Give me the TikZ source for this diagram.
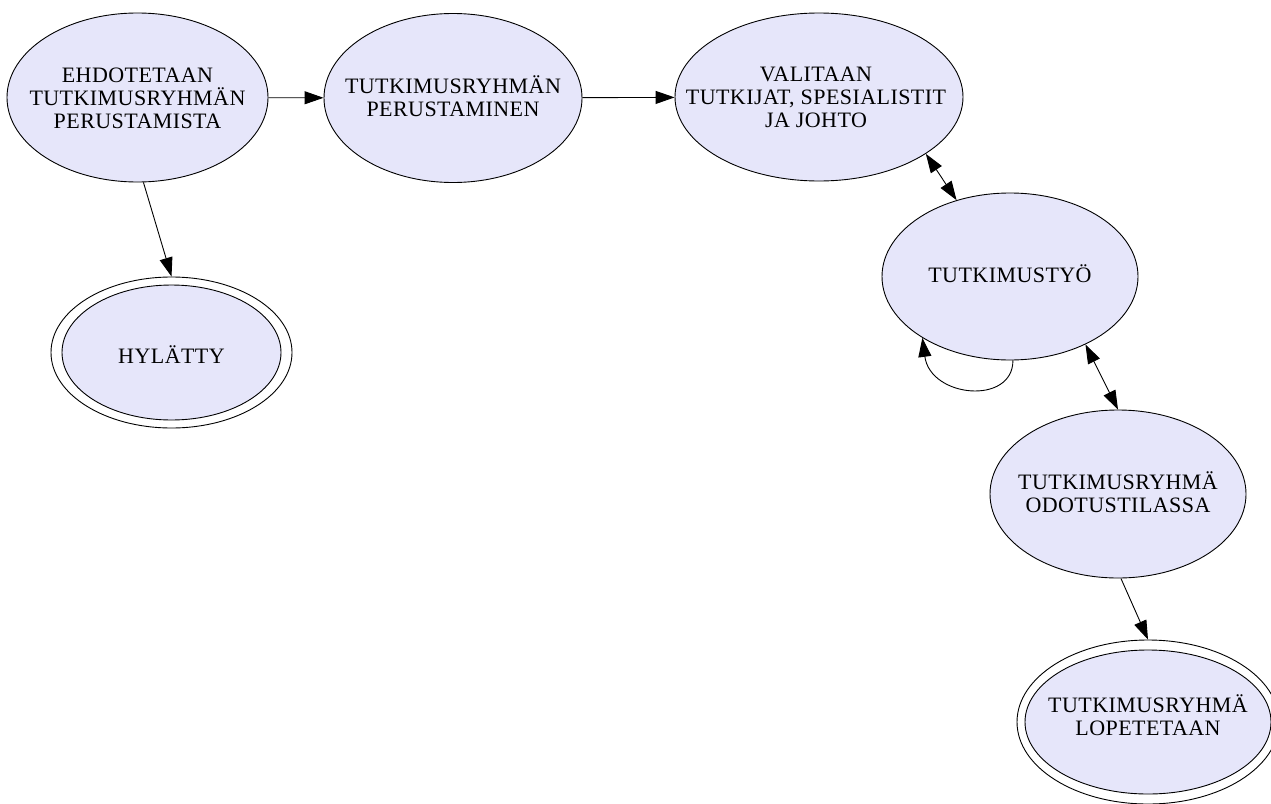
\documentclass[tikz,border=0pt]{standalone}
\usepackage{fontspec}
\setmainfont{Liberation Serif}[LetterSpace=2]
\usetikzlibrary{shapes.geometric,arrows.meta}
\definecolor{statefill}{RGB}{230,230,250}
\tikzset{
  state/.style={ellipse, draw=black, line width=0.9pt, fill=statefill, inner sep=0pt},
  ring/.style={ellipse, draw=black, line width=0.9pt, inner sep=0pt},
  txt/.style={inner sep=0pt, align=center, font=\fontsize{22}{23}\selectfont},
  conn/.style={line width=0.9pt, -{Triangle[length=19pt,width=13pt]}},
  biconn/.style={line width=0.9pt, {Triangle[length=19pt,width=13pt]}-{Triangle[length=19pt,width=13pt]}}
}
\begin{document}
\begin{tikzpicture}[x=1pt,y=-1pt]
\useasboundingbox (0,0) rectangle (1271,803);
\node[state, minimum width=261pt, minimum height=169pt] (ehd) at (137.5,97.5) {};
\node[txt] (ehdt) at (137.5,98) {EHDOTETAAN\\TUTKIMUSRYHMÄN\\PERUSTAMISTA};
\node[state, minimum width=258pt, minimum height=169pt] (per) at (453,98) {};
\node[txt] (pert) at (453,96.5) {TUTKIMUSRYHMÄN\\PERUSTAMINEN};
\node[state, minimum width=288pt, minimum height=168pt] (val) at (819,97) {};
\node[txt] (valt) at (816,97.5) {VALITAAN\\TUTKIJAT, SPESIALISTIT\\JA JOHTO};
\node[state, minimum width=256pt, minimum height=167pt] (tyo) at (1010,276.5) {};
\node[txt] (tyot) at (1010,273.5) {TUTKIMUSTYÖ};
\node[state, minimum width=256pt, minimum height=168pt] (odo) at (1118,494) {};
\node[txt] (odot) at (1118,492.5) {TUTKIMUSRYHMÄ\\ODOTUSTILASSA};
\node[ring, minimum width=262pt, minimum height=164pt] (lopo) at (1148,722) {};
\node[state, minimum width=246pt, minimum height=144pt] (lop) at (1148,722) {};
\node[txt] (lopt) at (1148,715.5) {TUTKIMUSRYHMÄ\\LOPETETAAN};
\node[ring, minimum width=241pt, minimum height=151pt] (hylo) at (171.5,352.5) {};
\node[state, minimum width=219pt, minimum height=135pt] (hyl) at (171.5,352.5) {};
\node[txt] (hylt) at (171.5,354.5) {HYLÄTTY};

\draw[conn] (ehd) -- (per);
\draw[conn] (per) -- (val);
\draw[conn] (ehd.-86) -- (hylo.90);
\draw[biconn] (val.-28) -- (tyo.125);
\draw[biconn] (tyo.-42.5) -- (odo.90);
\draw[conn] (odo.-88.6) -- (lopo.90);
\draw[conn] (tyo.-88.6) .. controls +(0,45) and +(8,60) .. (tyo.215.4);
\end{tikzpicture}
\end{document}
